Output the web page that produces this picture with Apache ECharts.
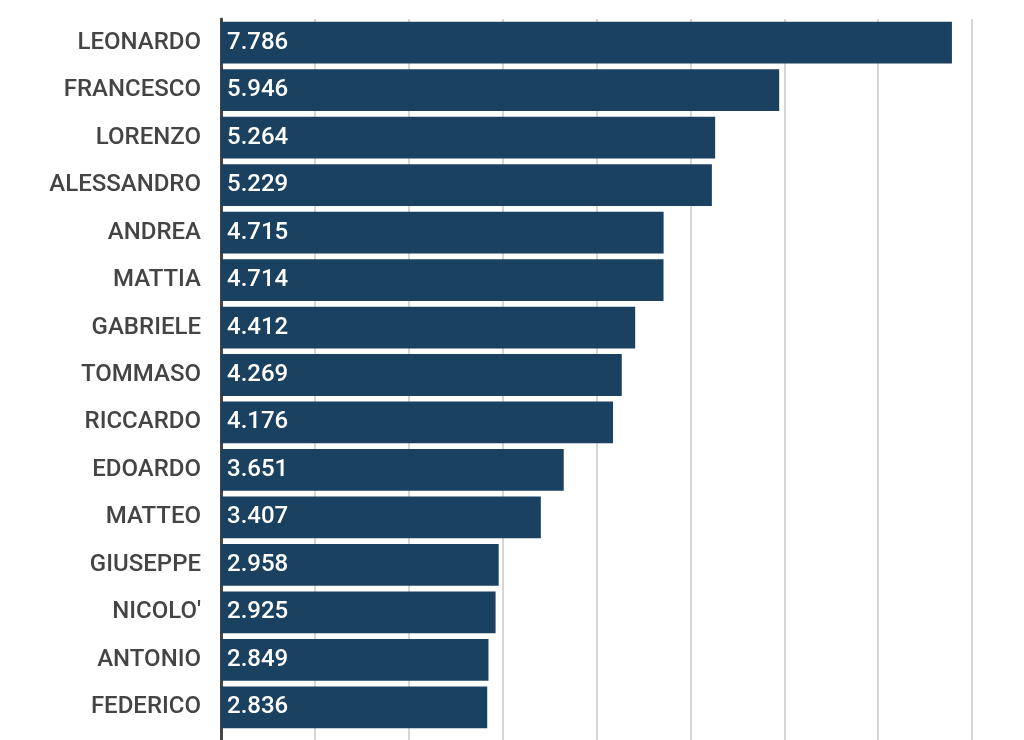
<!DOCTYPE html>
<html>
<head>
<meta charset="utf-8">
<script src="https://cdn.jsdelivr.net/npm/echarts@6/dist/echarts.min.js"></script>
<style>
html,body{margin:0;padding:0;background:#fff;}
#chart{width:1024px;height:740px;}
</style>
</head>
<body>
<div id="chart"></div>
<script>
const categories = ["LEONARDO","FRANCESCO","LORENZO","ALESSANDRO","ANDREA","MATTIA","GABRIELE","TOMMASO","RICCARDO","EDOARDO","MATTEO","GIUSEPPE","NICOLO'","ANTONIO","FEDERICO"];
const values = [7786,5946,5264,5229,4715,4714,4412,4269,4176,3651,3407,2958,2925,2849,2836];

function fmtIt(v){ return String(v).replace(/\B(?=(\d{3})+(?!\d))/g, '.'); }

const gridLine = {show:true, lineStyle:{color:'#d6d6d6', width:2}};
const axisLineStyle = {show:true, lineStyle:{color:'#454545', width:3}};

const chart = echarts.init(document.getElementById('chart'), null, {renderer:'canvas'});
chart.setOption({
  animation:false,
  backgroundColor:'#ffffff',
  grid:[
    {left:221, right:52, top:19, bottom:9, containLabel:false},
    {left:221, right:52, top:731, bottom:0, containLabel:false}
  ],
  xAxis:[
    {type:'value', gridIndex:0, min:0, max:8000, interval:1000,
     axisLabel:{show:false}, axisTick:{show:false}, axisLine:{show:false}, splitLine:gridLine},
    {type:'value', gridIndex:1, min:0, max:8000, interval:1000,
     axisLabel:{show:false}, axisTick:{show:false}, axisLine:{show:false}, splitLine:gridLine}
  ],
  yAxis:[
    {type:'category', gridIndex:0, data:categories, inverse:true,
     axisTick:{show:false}, axisLine:axisLineStyle,
     axisLabel:{margin:20, color:'#444444', fontFamily:'Roboto', fontWeight:500, fontSize:24},
     splitLine:{show:false}},
    {type:'value', gridIndex:1, min:0, max:1,
     axisTick:{show:false}, axisLine:axisLineStyle, axisLabel:{show:false}, splitLine:{show:false}}
  ],
  series:[{
    type:'bar', xAxisIndex:0, yAxisIndex:0, data:values, barCategoryGap:'12%',
    itemStyle:{color:'#1a4160'},
    label:{
      show:true, position:'insideLeft', distance:6, color:'#ffffff',
      fontFamily:'Roboto', fontWeight:500, fontSize:24,
      formatter:function(p){ return fmtIt(p.value); }
    }
  }]
});
</script>
</body>
</html>
